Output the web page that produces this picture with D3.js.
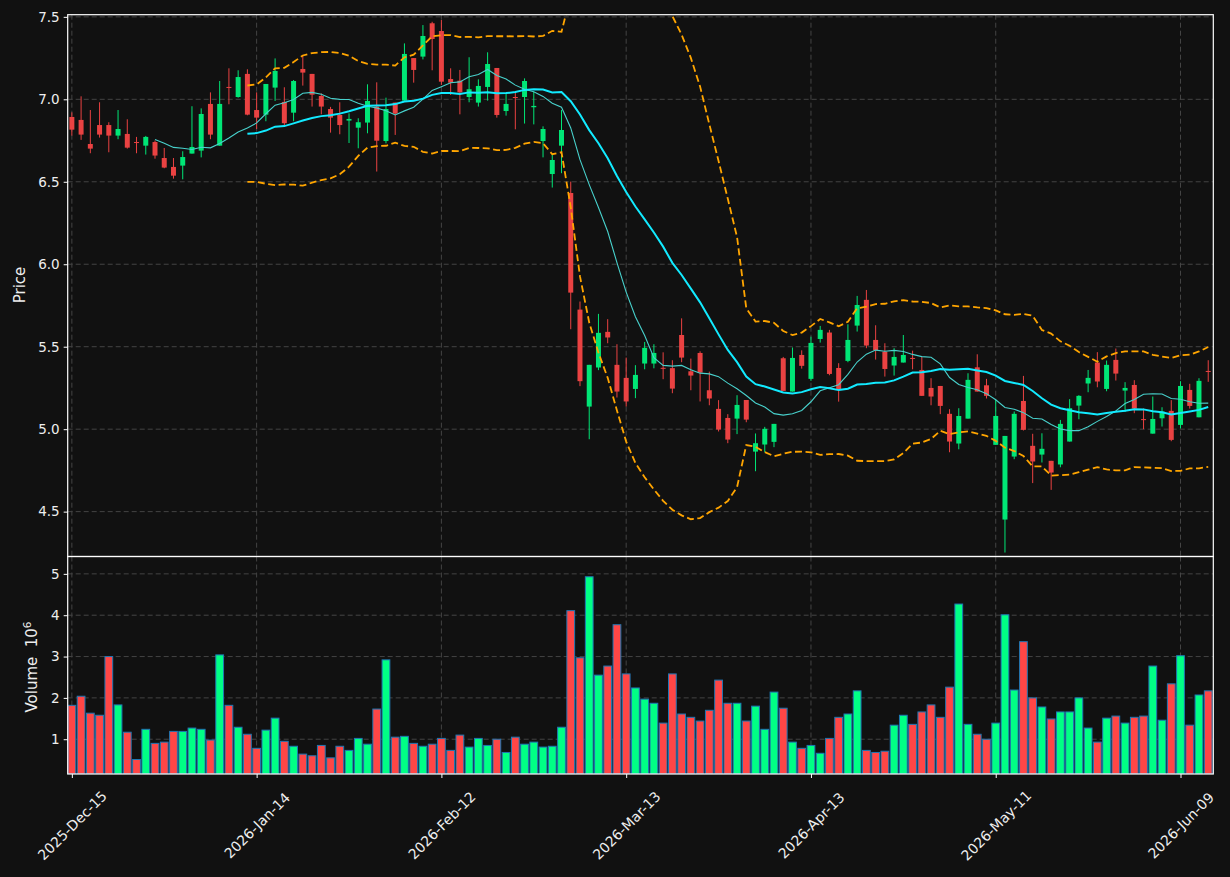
<!DOCTYPE html>
<html>
<head>
<meta charset="utf-8">
<script src="https://cdn.jsdelivr.net/npm/d3@7"></script>
<style>
  body { margin: 0; background: #111111; }
  text { font-family: "DejaVu Sans", sans-serif; }
</style>
</head>
<body>
<svg width="1230" height="877"></svg>
<script>
// OHLC per trading day (index 0 = 2025-Dec-15)
var opens = [6.893,6.875,6.729,6.844,6.844,6.780,6.790,6.741,6.719,6.741,6.644,6.590,6.598,6.671,6.689,6.972,6.719,7.075,7.014,7.154,
  6.935,6.907,7.071,6.984,6.919,7.184,7.154,7.020,6.941,6.905,6.871,6.828,6.859,6.956,6.747,6.980,6.992,7.250,7.259,7.461,
  7.414,7.123,7.113,7.014,6.980,7.075,7.190,6.929,7.014,7.014,6.952,6.747,6.547,6.719,6.432,5.725,5.137,5.374,5.590,5.390,
  5.311,5.244,5.398,5.398,5.372,5.370,5.571,5.351,5.462,5.236,5.123,5.068,5.064,5.177,4.864,4.907,4.923,5.430,5.228,5.450,
  5.305,5.547,5.586,5.371,5.414,5.628,5.784,5.541,5.470,5.386,5.404,5.432,5.359,5.250,5.262,5.093,4.913,5.064,5.375,5.266,
  4.905,4.452,4.834,5.171,4.899,4.846,4.808,4.786,4.925,5.143,5.277,5.404,5.244,5.420,5.234,5.268,5.061,4.973,5.066,5.111,
  5.026,5.238,5.072,5.353]
var highs = [6.921,7.018,6.935,6.982,6.861,6.935,6.879,6.772,6.778,6.750,6.705,6.644,6.685,6.958,6.945,7.042,7.111,7.188,7.176,7.182,
  7.042,7.093,7.248,7.073,7.117,7.263,7.154,7.036,6.954,6.982,6.915,6.885,7.091,7.103,7.010,6.980,7.339,7.250,7.450,7.470,
  7.481,7.188,7.178,7.255,7.121,7.285,7.190,7.036,7.042,7.127,7.046,6.836,6.665,6.935,6.501,5.774,5.390,5.699,5.667,5.515,
  5.434,5.388,5.529,5.515,5.466,5.418,5.672,5.428,5.472,5.349,5.176,5.091,5.206,5.177,4.974,5.014,5.032,5.438,5.495,5.478,
  5.561,5.626,5.602,5.400,5.636,5.808,5.844,5.630,5.521,5.491,5.571,5.476,5.438,5.309,5.262,5.121,5.127,5.339,5.454,5.305,
  5.178,4.959,5.107,5.323,4.972,4.975,4.808,5.056,5.182,5.206,5.359,5.467,5.416,5.489,5.285,5.297,5.125,5.198,5.133,5.176,
  5.291,5.275,5.309,5.418]
var lows = [6.780,6.754,6.673,6.768,6.679,6.758,6.701,6.673,6.665,6.640,6.582,6.519,6.515,6.671,6.648,6.758,6.719,6.970,7.010,6.903,
  6.820,6.867,6.990,6.842,6.867,7.083,6.956,6.909,6.798,6.788,6.735,6.703,6.794,6.562,6.733,6.784,6.992,7.101,7.242,7.176,
  7.087,7.026,6.909,6.982,6.956,6.992,6.889,6.901,6.818,6.853,6.848,6.648,6.465,6.552,5.606,5.261,4.939,5.358,5.521,5.192,
  5.137,5.188,5.363,5.369,5.303,5.218,5.406,5.236,5.168,5.145,4.986,4.915,4.970,5.042,4.745,4.860,4.891,5.232,5.228,5.367,
  5.293,5.525,5.327,5.167,5.406,5.592,5.491,5.422,5.319,5.325,5.404,5.363,5.202,5.145,5.091,4.860,4.878,5.064,5.228,5.186,
  4.905,4.252,4.818,4.992,4.673,4.798,4.632,4.769,4.925,5.060,5.224,5.254,5.230,5.295,5.105,5.097,5.000,4.973,5.016,4.927,
  5.004,5.125,5.072,5.287]
var closes = [6.816,6.786,6.701,6.786,6.780,6.820,6.707,6.737,6.772,6.659,6.586,6.537,6.650,6.711,6.911,6.786,6.972,7.070,7.135,6.907,
  6.889,7.093,7.172,6.855,7.111,7.162,7.028,6.956,6.889,6.844,6.881,6.861,6.990,6.749,6.941,6.913,7.275,7.178,7.384,7.366,
  7.107,7.101,7.042,7.061,7.081,7.214,6.905,6.972,7.010,7.111,6.960,6.820,6.632,6.814,5.828,5.291,5.390,5.584,5.556,5.228,
  5.168,5.329,5.493,5.462,5.368,5.246,5.434,5.325,5.343,5.186,4.998,4.937,5.147,5.058,4.915,5.002,5.032,5.232,5.432,5.384,
  5.523,5.602,5.335,5.238,5.541,5.753,5.507,5.478,5.365,5.438,5.450,5.428,5.202,5.198,5.141,4.925,5.080,5.299,5.228,5.202,
  5.080,4.959,5.093,4.996,4.804,4.881,4.737,5.032,5.127,5.202,5.311,5.289,5.390,5.337,5.250,5.125,5.058,5.062,5.107,4.935,
  5.262,5.141,5.293,5.349]
// volume in millions
var volumes = [1.82,2.04,1.63,1.58,3.00,1.83,1.17,0.51,1.24,0.90,0.93,1.19,1.19,1.27,1.24,0.98,3.04,1.82,1.29,1.12,
  0.78,1.22,1.51,0.95,0.83,0.64,0.60,0.85,0.55,0.83,0.73,1.02,0.88,1.73,2.92,1.05,1.07,0.90,0.83,0.88,
  1.02,0.73,1.10,0.81,1.02,0.85,1.00,0.68,1.05,0.88,0.93,0.81,0.83,1.29,4.11,2.97,4.93,2.55,2.77,3.77,
  2.58,2.24,1.97,1.87,1.39,2.58,1.61,1.53,1.44,1.70,2.43,1.87,1.87,1.44,1.80,1.24,2.14,1.75,0.93,0.78,
  0.85,0.66,1.02,1.53,1.61,2.17,0.73,0.68,0.71,1.34,1.58,1.36,1.66,1.83,1.53,2.26,4.27,1.36,1.12,1.00,
  1.39,4.01,2.19,3.36,2.00,1.78,1.49,1.66,1.66,2.00,1.27,0.93,1.51,1.56,1.39,1.53,1.56,2.77,1.46,2.34,
  3.02,1.34,2.07,2.17]

var tickIndex = [0, 20, 40, 60, 80, 100, 120]
var tickLabels = ['2025-Dec-15', '2026-Jan-14', '2026-Feb-12', '2026-Mar-13', '2026-Apr-13', '2026-May-11', '2026-Jun-09']
var priceTicks = [4.5, 5.0, 5.5, 6.0, 6.5, 7.0, 7.5]
var volumeTicks = [1, 2, 3, 4, 5]

var upCandle = '#00e676', downCandle = '#ea4242'
var upVol = '#00ff85', downVol = '#ff4646'
var gridColor = '#444444'

var svg = d3.select('svg')
svg.append('rect').attr('width', 1230).attr('height', 877).attr('fill', '#111111')

var days = d3.range(closes.length)
var x = d3.scaleLinear().domain([-0.45, 123.55]).range([67.7, 1213.3])
var yP = d3.scaleLinear().domain([4.228, 7.513]).range([556.5, 14.7])
var yV = d3.scaleLinear().domain([0.159, 5.42]).range([774, 556.5])
var step = x(1) - x(0)

// moving averages and 20-day bands from the closes
function rolling(n) {
  return days.filter(i => i >= n - 1).map(function(i) {
    var win = closes.slice(i - n + 1, i + 1)
    var m = d3.mean(win)
    var sd = Math.sqrt(d3.mean(win, v => (v - m) * (v - m)))
    return { i: i, m: m, sd: sd }
  })
}
var ma10 = rolling(10)
var ma20 = rolling(20)

svg.append('clipPath').attr('id', 'clipP')
  .append('rect').attr('x', 67.7).attr('y', 14.7).attr('width', 1145.6).attr('height', 541.8)
svg.append('clipPath').attr('id', 'clipV')
  .append('rect').attr('x', 67.7).attr('y', 556.5).attr('width', 1145.6).attr('height', 217.5)

// grid
function grid(g, ys, yScale, y0, y1) {
  g.selectAll('.h').data(ys).enter().append('line')
    .attr('x1', 67.7).attr('x2', 1213.3)
    .attr('y1', d => yScale(d)).attr('y2', d => yScale(d))
  g.selectAll('.v').data(tickIndex).enter().append('line')
    .attr('x1', d => x(d)).attr('x2', d => x(d))
    .attr('y1', y0).attr('y2', y1)
  g.selectAll('line').attr('stroke', gridColor).attr('stroke-width', 1).attr('stroke-dasharray', '5,3')
}
grid(svg.append('g'), priceTicks, yP, 14.7, 556.5)
grid(svg.append('g'), volumeTicks, yV, 556.5, 774)

// candles
var candles = svg.append('g').attr('clip-path', 'url(#clipP)')
var c = candles.selectAll('g').data(days).enter().append('g')
c.append('line')
  .attr('x1', i => x(i)).attr('x2', i => x(i))
  .attr('y1', i => yP(highs[i])).attr('y2', i => yP(lows[i]))
  .attr('stroke', i => closes[i] >= opens[i] ? upCandle : downCandle)
  .attr('stroke-width', 1)
c.append('rect')
  .attr('x', i => x(i) - step * 0.27)
  .attr('width', step * 0.54)
  .attr('y', i => yP(Math.max(opens[i], closes[i])))
  .attr('height', i => Math.max(1, yP(Math.min(opens[i], closes[i])) - yP(Math.max(opens[i], closes[i]))))
  .attr('fill', i => closes[i] >= opens[i] ? upCandle : downCandle)

// indicator lines
var lines = svg.append('g').attr('clip-path', 'url(#clipP)')
lines.append('path').datum(ma20)
  .attr('d', d3.line().x(d => x(d.i)).y(d => yP(d.m + 2 * d.sd)))
  .attr('fill', 'none').attr('stroke', '#ffa500').attr('stroke-width', 1.8).attr('stroke-dasharray', '7,3.5')
lines.append('path').datum(ma20)
  .attr('d', d3.line().x(d => x(d.i)).y(d => yP(d.m - 2 * d.sd)))
  .attr('fill', 'none').attr('stroke', '#ffa500').attr('stroke-width', 1.8).attr('stroke-dasharray', '7,3.5')
lines.append('path').datum(ma10)
  .attr('d', d3.line().x(d => x(d.i)).y(d => yP(d.m)))
  .attr('fill', 'none').attr('stroke', '#48d1cc').attr('stroke-width', 1.1)
lines.append('path').datum(ma20)
  .attr('d', d3.line().x(d => x(d.i)).y(d => yP(d.m)))
  .attr('fill', 'none').attr('stroke', '#12eaff').attr('stroke-width', 2)

// volume
svg.append('g').attr('clip-path', 'url(#clipV)')
  .selectAll('rect').data(days).enter().append('rect')
  .attr('x', i => x(i) - step * 0.42)
  .attr('width', step * 0.84)
  .attr('y', i => yV(volumes[i]))
  .attr('height', i => yV.range()[0] - yV(volumes[i]))
  .attr('fill', i => closes[i] >= opens[i] ? upVol : downVol)
  .attr('stroke', '#1f77b4').attr('stroke-width', 1)

// axes
function styleAxis(g) {
  g.select('.domain').remove()
  g.selectAll('.tick line').attr('stroke', '#ffffff')
  g.selectAll('.tick text').attr('fill', '#eeeeee').style('font-size', '13.5px').style('font-family', 'DejaVu Sans')
}
svg.append('g').attr('transform', 'translate(67.7,0)')
  .call(d3.axisLeft(yP).tickValues(priceTicks).tickFormat(d3.format('.1f')).tickSize(4).tickPadding(4))
  .call(styleAxis)
svg.append('g').attr('transform', 'translate(67.7,0)')
  .call(d3.axisLeft(yV).tickValues(volumeTicks).tickFormat(d3.format('d')).tickSize(4).tickPadding(4))
  .call(styleAxis)
var xa = svg.append('g').attr('transform', 'translate(0,774)')
  .call(d3.axisBottom(x).tickValues(tickIndex).tickFormat((d, k) => tickLabels[k]).tickSize(4))
  .call(styleAxis)
xa.selectAll('.tick text')
  .style('font-size', '14px')
  .attr('text-anchor', 'middle').attr('dy', '0.35em').attr('y', 0)
  .attr('transform', 'translate(0,51.5) rotate(-45)')

// spines
svg.append('rect').attr('x', 67.7).attr('y', 14.7).attr('width', 1145.6).attr('height', 541.8)
  .attr('fill', 'none').attr('stroke', '#ffffff').attr('stroke-width', 1.2)
svg.append('rect').attr('x', 67.7).attr('y', 556.5).attr('width', 1145.6).attr('height', 217.5)
  .attr('fill', 'none').attr('stroke', '#ffffff').attr('stroke-width', 1.2)

// axis labels
svg.append('text').attr('transform', 'translate(25,285) rotate(-90)')
  .attr('text-anchor', 'middle').attr('fill', '#eeeeee').style('font-size', '15px').text('Price')
var vl = svg.append('text').attr('transform', 'translate(36.5,667) rotate(-90)')
  .attr('text-anchor', 'middle').attr('fill', '#eeeeee').style('font-size', '15px')
  .attr('xml:space', 'preserve').style('white-space', 'pre')
vl.append('tspan').text('Volume  10')
vl.append('tspan').attr('dy', '-0.5em').style('font-size', '10.5px').text('6')
</script>
</body>
</html>
